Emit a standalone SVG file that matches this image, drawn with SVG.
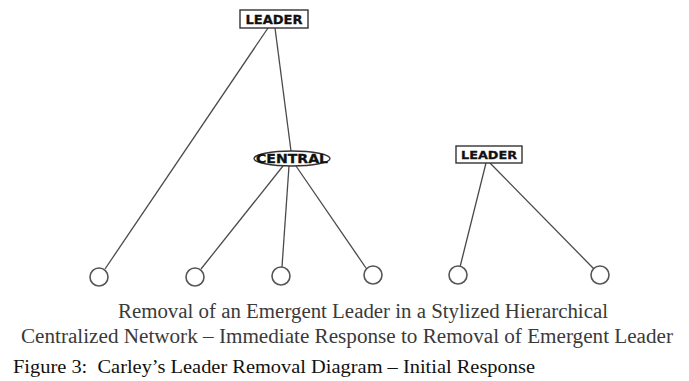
<svg xmlns="http://www.w3.org/2000/svg" width="689" height="381" viewBox="0 0 689 381">
<style>
.edge{stroke:#4a4a4a;stroke-width:1.3;fill:none}
.leaf{fill:#fff;stroke:#555;stroke-width:1.6}
.box{fill:#fff;stroke:#333;stroke-width:1.4}
.lbl{font-family:"DejaVu Sans","Liberation Sans",sans-serif;font-weight:bold;fill:#111;stroke:#111;stroke-width:0.3;text-anchor:middle}
.cap{font-family:"Liberation Serif",serif;font-size:20px;fill:#3a3a3a;text-anchor:middle}
.fig{font-family:"Liberation Serif",serif;font-size:19px;fill:#111;white-space:pre}
</style>
<rect width="689" height="381" fill="#fff"/>
<g id="connectors">
<line class="edge" x1="268" y1="28" x2="105" y2="269"/>
<line class="edge" x1="275" y1="28" x2="291" y2="151"/>
<line class="edge" x1="283" y1="166" x2="201" y2="269"/>
<line class="edge" x1="289" y1="166" x2="282" y2="267"/>
<line class="edge" x1="296" y1="166" x2="366" y2="268"/>
<line class="edge" x1="486" y1="163" x2="460" y2="267"/>
<line class="edge" x1="490" y1="163" x2="594" y2="269"/>
</g>
<g id="leader1"><rect class="box" x="240" y="10" width="68" height="18"/><text class="lbl" x="274" y="23.5" font-size="12" textLength="57" lengthAdjust="spacingAndGlyphs">LEADER</text></g>
<g id="central"><ellipse class="box" cx="292" cy="158.5" rx="38" ry="7.5"/><text class="lbl" x="292" y="163" font-size="12" textLength="72" lengthAdjust="spacingAndGlyphs">CENTRAL</text></g>
<g id="leader2"><rect class="box" x="456" y="146" width="66" height="17"/><text class="lbl" x="489" y="159" font-size="11" textLength="56" lengthAdjust="spacingAndGlyphs">LEADER</text></g>
<g id="n1"><circle class="leaf" cx="99" cy="277" r="9"/></g>
<g id="n2"><circle class="leaf" cx="195" cy="277" r="9"/></g>
<g id="n3"><circle class="leaf" cx="281" cy="276" r="9"/></g>
<g id="n4"><circle class="leaf" cx="373" cy="275" r="9"/></g>
<g id="n5"><circle class="leaf" cx="458" cy="275" r="9"/></g>
<g id="n6"><circle class="leaf" cx="600" cy="275" r="9"/></g>
<g id="captions">
<text class="cap" x="363" y="318" textLength="490" lengthAdjust="spacingAndGlyphs">Removal of an Emergent Leader in a Stylized Hierarchical</text>
<text class="cap" x="347" y="343" textLength="652" lengthAdjust="spacingAndGlyphs">Centralized Network – Immediate Response to Removal of Emergent Leader</text>
<text class="fig" x="13" y="373" textLength="522" lengthAdjust="spacingAndGlyphs" xml:space="preserve">Figure 3:  Carley’s Leader Removal Diagram – Initial Response</text>
</g>
</svg>
